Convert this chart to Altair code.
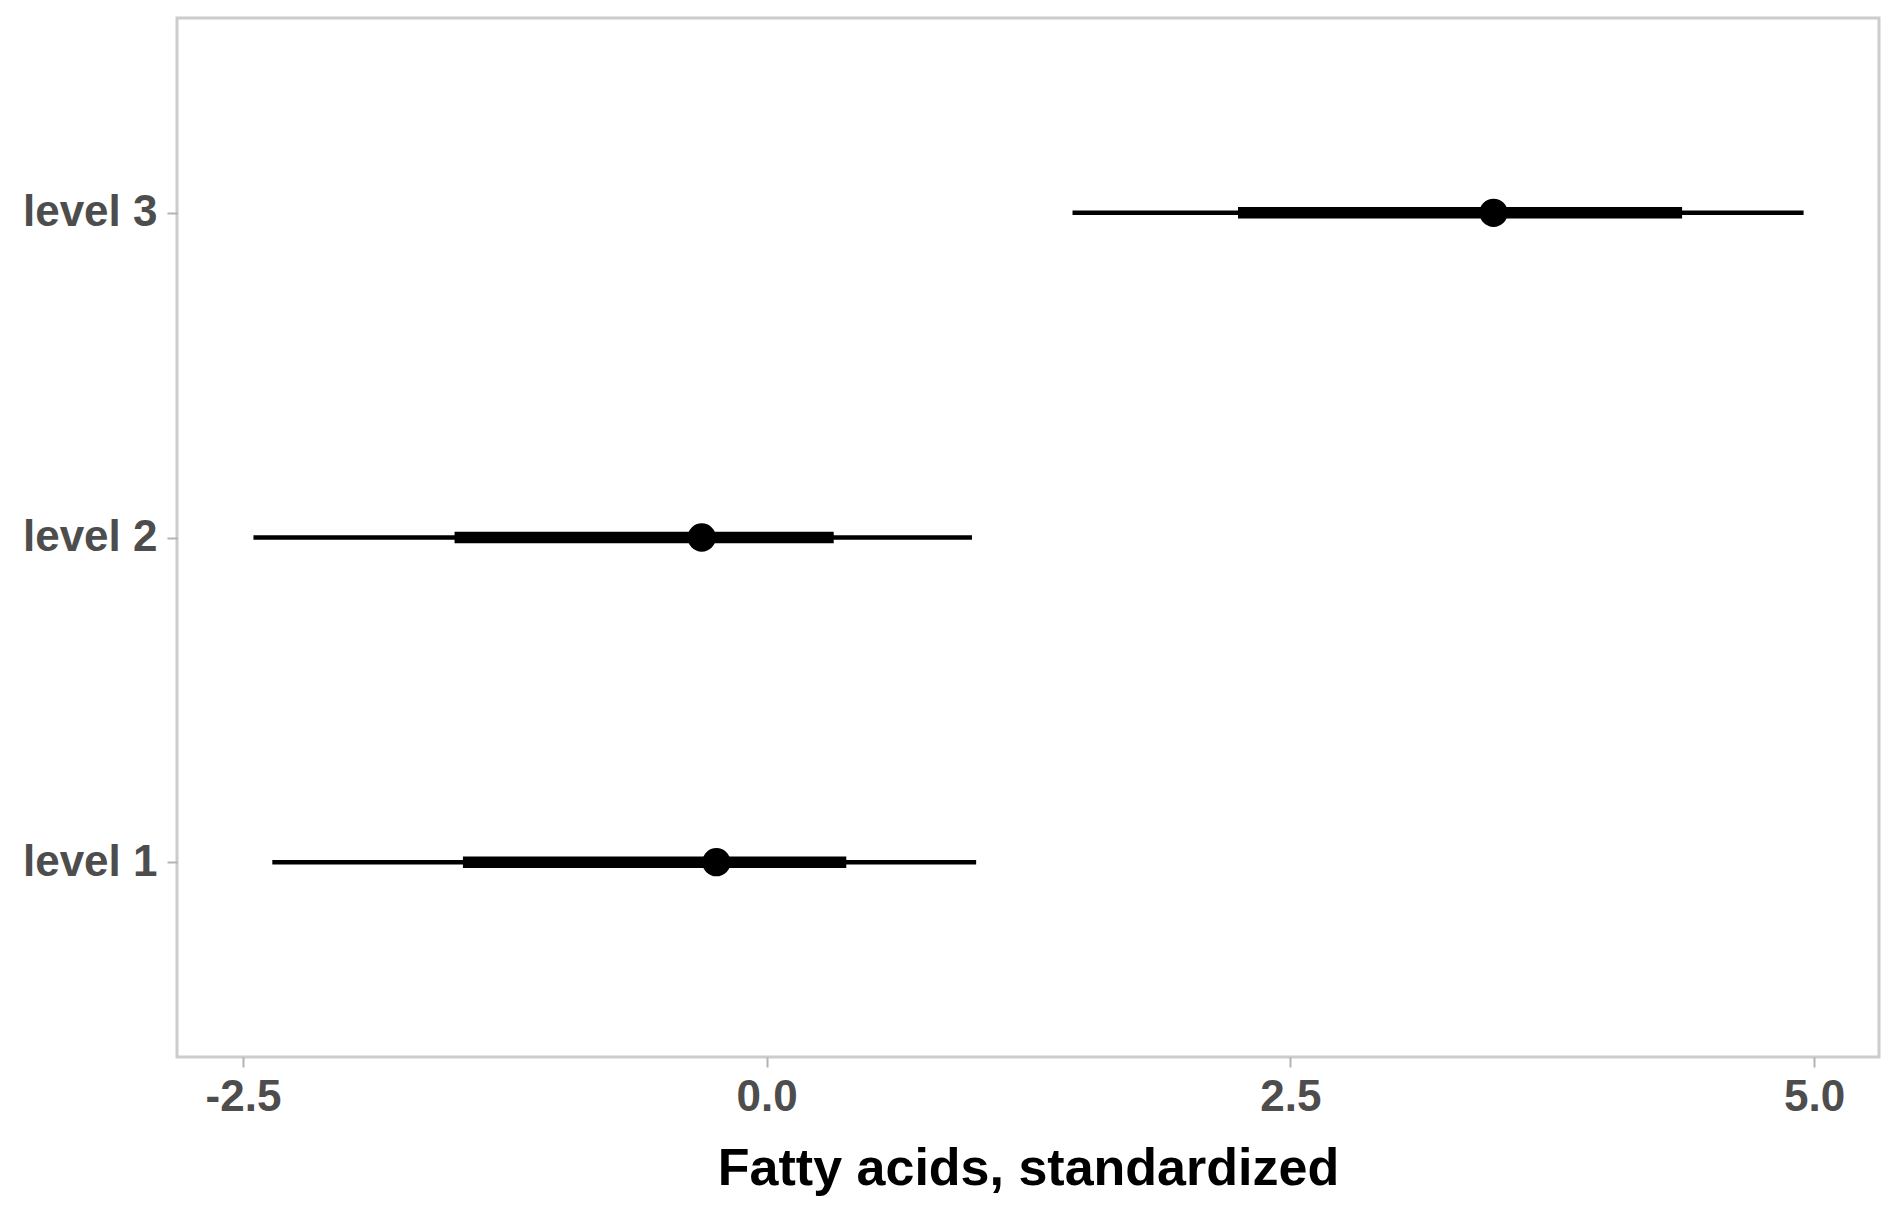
import altair as alt
import pandas as pd

# Data
levels = ["level 1", "level 2", "level 3"]
lo95 = [-2.36, -2.45, 1.46]
lo50 = [-1.45, -1.49, 2.25]
mid = [-0.24, -0.31, 3.47]
hi50 = [0.38, 0.32, 4.37]
hi95 = [1.00, 0.98, 4.95]

x_ticks = [-2.5, 0.0, 2.5, 5.0]
x_tick_labels = ["-2.5", "0.0", "2.5", "5.0"]

df = pd.DataFrame({"level": levels, "lo95": lo95, "lo50": lo50,
                   "mid": mid, "hi50": hi50, "hi95": hi95})

label_expr = " : ".join(
    [f"datum.value == {v} ? '{l}'" for v, l in zip(x_ticks, x_tick_labels)]
) + " : ''"

FONT = "Liberation Sans"

x_scale = alt.Scale(domain=[-2.815, 5.31], nice=False, zero=False)
y_scale = alt.Scale(type="point", padding=0.6)
y_sort = ["level 3", "level 2", "level 1"]

x_axis = alt.Axis(
    values=x_ticks, labelExpr=label_expr, title="Fatty acids, standardized",
    grid=False, domain=False, tickSize=10, tickWidth=2, tickColor="#B3B3B3",
    labelFont=FONT, labelFontSize=44, labelFontWeight="bold", labelColor="#4D4D4D",
    labelPadding=8, titleFont=FONT, titleFontSize=52, titleFontWeight="bold",
    titleColor="#000000", titlePadding=24,
)
y_axis = alt.Axis(
    title=None, grid=False, domain=False, tickSize=10, tickWidth=2,
    tickColor="#B3B3B3", labelFont=FONT, labelFontSize=44,
    labelFontWeight="bold", labelColor="#4D4D4D", labelPadding=10,
)

base = alt.Chart(df)

thin = base.mark_rule(color="black", strokeWidth=4.5).encode(
    x=alt.X("lo95:Q", scale=x_scale, axis=x_axis),
    x2="hi95:Q",
    y=alt.Y("level:N", scale=y_scale, sort=y_sort, axis=y_axis),
)
thick = base.mark_rule(color="black", strokeWidth=11.5).encode(
    x=alt.X("lo50:Q", scale=x_scale),
    x2="hi50:Q",
    y=alt.Y("level:N", scale=y_scale, sort=y_sort),
)
pts = base.mark_circle(color="black", opacity=1, size=800).encode(
    x=alt.X("mid:Q", scale=x_scale),
    y=alt.Y("level:N", scale=y_scale, sort=y_sort),
)

chart = (
    alt.layer(thin, thick, pts)
    .properties(
        width=1702, height=1039,
        autosize=alt.AutoSizeParams(type="none"),
        padding={"left": 169, "top": 10, "right": 15, "bottom": 150},
        background="white",
    )
    .configure_view(stroke="#CCCCCC", strokeWidth=3)
)

chart.save("out.html", embed_options={"renderer": "svg", "actions": False})
